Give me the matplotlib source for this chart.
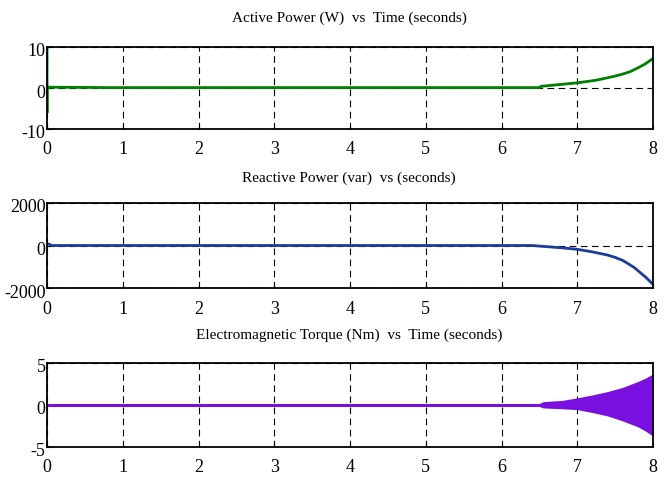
import matplotlib
matplotlib.use("Agg")
import matplotlib.pyplot as plt
from matplotlib.transforms import ScaledTranslation

# ---- data ----
x_ticks = [0, 1, 2, 3, 4, 5, 6, 7, 8]

p_time = [0.0, 0.0, 0.0, 0.02, 0.8, 6.5, 6.52, 6.8, 7.0, 7.25, 7.5, 7.6, 7.7, 7.8, 7.9, 8.0]
p_vals = [10.0, -6.0, 0.3, 0.2, 0.1, 0.1, 0.4, 0.9, 1.25, 1.9, 2.9, 3.4, 4.0, 4.9, 5.9, 7.2]
p_yticks = [-10, 0, 10]

q_time = [0.0, 0.03, 0.06, 6.4, 6.8, 7.0, 7.2, 7.4, 7.5, 7.6, 7.75, 7.9, 8.0]
q_vals = [80, 60, 0, 0, -110, -180, -300, -450, -560, -700, -1030, -1480, -1830]
q_yticks = [-2000, 0, 2000]

t_time = [0.0, 6.5, 6.55, 6.8, 7.0, 7.2, 7.4, 7.6, 7.8, 7.9, 8.0]
t_upper = [0.18, 0.18, 0.4, 0.55, 0.85, 1.2, 1.6, 2.1, 2.8, 3.2, 3.7]
t_lower = [-0.18, -0.18, -0.35, -0.45, -0.55, -0.9, -1.3, -1.9, -2.6, -3.1, -3.7]
t_yticks = [-5, 0, 5]

titles = ["Active Power (W)  vs  Time (seconds)",
          "Reactive Power (var)  vs (seconds)",
          "Electromagnetic Torque (Nm)  vs  Time (seconds)"]

plt.rcParams['font.family'] = ['Liberation Serif', 'DejaVu Serif']

fig = plt.figure(figsize=(6.69, 4.80), dpi=100)
L, W = 47/669, (653-47)/669
boxes = [(47, 129), (203, 288), (363, 447)]
title_y = [18, 178, 335]
axes = []
for top, bot in boxes:
    ax = fig.add_axes([L, 1-bot/480, W, (bot-top)/480])
    axes.append(ax)

def style(ax, yt, title, ty):
    ax.set_xlim(0, 8)
    ax.set_ylim(yt[0], yt[-1])
    ax.set_xticks(x_ticks)
    ax.set_yticks(yt)
    ax.set_xticklabels([str(v) for v in x_ticks])
    ax.set_yticklabels([str(v) for v in yt])
    ax.tick_params(direction='in', length=3, width=0.8, labelsize=13)
    ax.tick_params(axis='y', pad=1)
    ax.tick_params(axis='x', pad=9)
    off = ScaledTranslation(0, -3/100, fig.dpi_scale_trans)
    for lab in ax.get_yticklabels():
        lab.set_transform(lab.get_transform() + off)
    for s in ax.spines.values():
        s.set_linewidth(1.3)
        s.set_color('black')
    ax.grid(True, color='black', linestyle=(0, (6, 4)), linewidth=0.8)
    ax.set_axisbelow(True)
    fig.text(349/669, 1-ty/480, title, fontsize=11, ha='center', va='center')

axes[0].plot(p_time, p_vals, color='#008000', linewidth=2)
style(axes[0], p_yticks, titles[0], title_y[0])

axes[1].plot(q_time, q_vals, color='#1c3c9c', linewidth=2)
style(axes[1], q_yticks, titles[1], title_y[1])

axes[2].fill_between(t_time, t_lower, t_upper, color='#7a10e0', linewidth=0)
style(axes[2], t_yticks, titles[2], title_y[2])

fig.savefig("out.png", dpi=100)
